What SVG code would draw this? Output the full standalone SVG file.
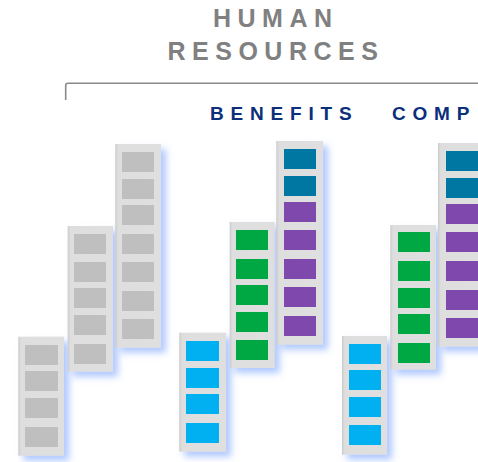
<svg xmlns="http://www.w3.org/2000/svg" width="478" height="462" viewBox="0 0 478 462">
<defs>
<linearGradient id="cg" x1="0" y1="0" x2="1" y2="0">
<stop offset="0" stop-color="#cbcbcb"/>
<stop offset="0.06" stop-color="#dedede"/>
<stop offset="1" stop-color="#dfdfdf"/>
</linearGradient>
<filter id="glow" x="-40%" y="-10%" width="180%" height="125%">
<feGaussianBlur in="SourceAlpha" stdDeviation="3.5" result="b"/>
<feOffset in="b" dx="5" dy="5" result="o"/>
<feFlood flood-color="#7aa4ff" flood-opacity="0.6"/>
<feComposite operator="in" in2="o" result="s"/>
<feMerge><feMergeNode in="s"/><feMergeNode in="SourceGraphic"/></feMerge>
</filter>
<style>
.box{fill:url(#cg);filter:url(#glow)}
.g{fill:#bfbfbf}
.t{fill:#0076a3}
.p{fill:#7f48ac}
.gr{fill:#00a843}
.b{fill:#00b0f0}
.title{font-family:"Liberation Sans",Arial,sans-serif;font-weight:bold;font-size:25px;letter-spacing:6.5px;fill:#808080}
.sub{font-family:"Liberation Sans",Arial,sans-serif;font-weight:bold;font-size:19px;letter-spacing:6.8px;fill:#0c2f7c}
</style>
</defs>
<rect width="478" height="462" fill="#ffffff"/>
<g id="title">
<text class="title" x="213" y="26.5">HUMAN</text>
<text class="title" x="167.5" y="60">RESOURCES</text>
</g>
<g id="connectors">
<path d="M65.7,100 V85.5 Q65.7,83.3 68,83.3 H478" fill="none" stroke="#8a8a8a" stroke-width="1.6"/>
</g>
<g id="labels">
<text class="sub" x="210" y="120">BENEFITS</text>
<text class="sub" x="392" y="120">COMP</text>
</g>
<g id="colA">
<rect class="box" x="18.3" y="336.7" width="45.7" height="119"/>
<rect class="g" x="25" y="345" width="33" height="20"/>
<rect class="g" x="25" y="371" width="33" height="20"/>
<rect class="g" x="25" y="398" width="33" height="20"/>
<rect class="g" x="25" y="427" width="33" height="20"/>
</g>
<g id="colB">
<rect class="box" x="67.7" y="226" width="45.3" height="145.7"/>
<rect class="g" x="74" y="234" width="32" height="20"/>
<rect class="g" x="74" y="262" width="32" height="20"/>
<rect class="g" x="74" y="288" width="32" height="20"/>
<rect class="g" x="74" y="315" width="32" height="20"/>
<rect class="g" x="74" y="344" width="32" height="20"/>
</g>
<g id="colC">
<rect class="box" x="115.3" y="144" width="45.7" height="203.7"/>
<rect class="g" x="122" y="152" width="32" height="20"/>
<rect class="g" x="122" y="179" width="32" height="20"/>
<rect class="g" x="122" y="205" width="32" height="20"/>
<rect class="g" x="122" y="234" width="32" height="20"/>
<rect class="g" x="122" y="262" width="32" height="20"/>
<rect class="g" x="122" y="291" width="32" height="20"/>
<rect class="g" x="122" y="319" width="32" height="20"/>
</g>
<g id="colD">
<rect class="box" x="179.3" y="332.7" width="46.7" height="119"/>
<rect class="b" x="186" y="341" width="33" height="20"/>
<rect class="b" x="186" y="368" width="33" height="20"/>
<rect class="b" x="186" y="394" width="33" height="20"/>
<rect class="b" x="186" y="423" width="33" height="20"/>
</g>
<g id="colE">
<rect class="box" x="229.7" y="222" width="45" height="146"/>
<rect class="gr" x="236" y="230" width="32" height="20"/>
<rect class="gr" x="236" y="259" width="32" height="20"/>
<rect class="gr" x="236" y="285" width="32" height="20"/>
<rect class="gr" x="236" y="312" width="32" height="20"/>
<rect class="gr" x="236" y="340" width="32" height="20"/>
</g>
<g id="colF">
<rect class="box" x="276.3" y="141" width="46.7" height="203.7"/>
<rect class="t" x="284" y="149" width="32" height="20"/>
<rect class="t" x="284" y="176" width="32" height="20"/>
<rect class="p" x="284" y="202" width="32" height="20"/>
<rect class="p" x="284" y="230" width="32" height="20"/>
<rect class="p" x="284" y="259" width="32" height="20"/>
<rect class="p" x="284" y="287" width="32" height="20"/>
<rect class="p" x="284" y="316" width="32" height="20"/>
</g>
<g id="colG">
<rect class="box" x="342" y="336" width="45" height="118.7"/>
<rect class="b" x="349" y="344" width="32" height="20"/>
<rect class="b" x="349" y="370" width="32" height="20"/>
<rect class="b" x="349" y="397" width="32" height="20"/>
<rect class="b" x="349" y="425" width="32" height="20"/>
</g>
<g id="colH">
<rect class="box" x="390.3" y="225" width="45.7" height="144.7"/>
<rect class="gr" x="398" y="232" width="32" height="20"/>
<rect class="gr" x="398" y="261" width="32" height="20"/>
<rect class="gr" x="398" y="288" width="32" height="20"/>
<rect class="gr" x="398" y="314" width="32" height="20"/>
<rect class="gr" x="398" y="343" width="32" height="20"/>
</g>
<g id="colI">
<rect class="box" x="438" y="143" width="46" height="203.7"/>
<rect class="t" x="446" y="151" width="32" height="20"/>
<rect class="t" x="446" y="178" width="32" height="20"/>
<rect class="p" x="446" y="204" width="32" height="20"/>
<rect class="p" x="446" y="232" width="32" height="20"/>
<rect class="p" x="446" y="261" width="32" height="20"/>
<rect class="p" x="446" y="290" width="32" height="20"/>
<rect class="p" x="446" y="318" width="32" height="20"/>
</g>
</svg>
